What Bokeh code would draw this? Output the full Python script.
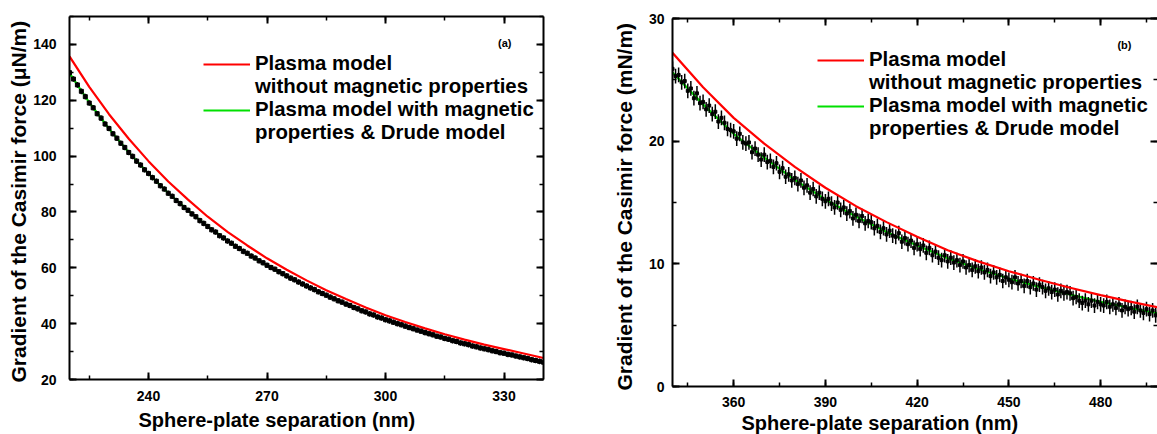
from bokeh.plotting import figure
from bokeh.models import (Range1d, LinearAxis, SingleIntervalTicker, Legend, LegendItem,
                          Label, ColumnDataSource, Title, CustomJSTickFormatter)
from bokeh.layouts import row
from bokeh.embed import file_html
from bokeh.resources import INLINE

FONT = "Liberation Sans"

# ---------------- panel (a) ----------------
sep_a_model = list(range(220, 341, 5))
red_a = [135.7, 124.8, 115.0, 106.2, 98.2, 90.9, 84.4, 78.3, 72.9, 68.0, 63.4, 59.3, 55.5,
         52.0, 48.8, 45.8, 43.0, 40.6, 38.3, 36.2, 34.3, 32.5, 30.9, 29.3, 27.7]
green_a = [129.7, 119.2, 109.8, 101.4, 93.7, 86.8, 80.6, 74.8, 69.7, 65.1, 60.8, 57.0, 53.4,
           50.1, 47.0, 44.1, 41.4, 39.1, 36.8, 34.7, 32.8, 31.0, 29.4, 27.8, 26.2]
sep_a = list(range(220, 341))
data_a = [129.9, 127.6, 125.5, 123.2, 121.3, 119.0, 117.3, 115.2, 113.6, 111.5,
          109.9, 108.0, 106.4, 104.6, 103.1, 101.3, 99.9, 98.2, 96.8, 95.1,
          93.8, 92.3, 91.0, 89.4, 88.2, 86.7, 85.6, 84.1, 83.0, 81.6,
          80.6, 79.3, 78.3, 76.9, 75.9, 74.8, 73.6, 72.8, 71.5, 70.7,
          69.6, 68.8, 67.7, 66.9, 65.9, 65.2, 64.2, 63.5, 62.5, 61.8,
          60.9, 60.1, 59.5, 58.6, 57.9, 57.1, 56.3, 55.7, 54.9, 54.2,
          53.5, 52.8, 52.2, 51.4, 50.8, 50.2, 49.5, 48.9, 48.2, 47.7,
          47.0, 46.5, 45.8, 45.3, 44.6, 44.2, 43.5, 43.1, 42.4, 42.0,
          41.4, 41.0, 40.5, 40.0, 39.6, 39.1, 38.6, 38.2, 37.7, 37.3,
          36.8, 36.4, 36.0, 35.5, 35.2, 34.7, 34.4, 33.9, 33.6, 33.1,
          32.8, 32.5, 32.0, 31.7, 31.3, 31.0, 30.7, 30.3, 30.0, 29.6,
          29.4, 29.0, 28.8, 28.4, 28.1, 27.8, 27.5, 27.1, 26.8, 26.5,
          26.2]
err_a = 1.0

# ---------------- panel (b) ----------------
sep_b_model = list(range(340, 501, 10))
red_b = [27.2, 24.4, 21.9, 19.8, 17.9, 16.2, 14.7, 13.4, 12.2, 11.1, 10.2, 9.4, 8.7,
         8.05, 7.45, 6.9, 6.4]
green_b = [25.6, 23.0, 20.6, 18.65, 16.85, 15.25, 13.85, 12.6, 11.5, 10.45, 9.58, 8.8,
           8.12, 7.5, 6.9, 6.38, 5.9]
sep_b = list(range(340, 501))
data_b = [25.9, 25.3, 25.4, 24.8, 24.9, 24.1, 24.3, 23.5, 23.9, 23.1,
          23.2, 22.6, 22.9, 22.2, 22.4, 21.6, 21.9, 21.5, 21.0, 20.9,
          20.8, 20.2, 20.6, 19.9, 19.8, 19.9, 19.1, 19.4, 18.9, 18.5,
          18.9, 18.3, 18.4, 17.9, 18.2, 17.5, 17.8, 17.1, 17.3, 16.8,
          17.0, 16.5, 16.8, 16.2, 16.4, 15.8, 16.1, 15.5, 15.8, 15.3,
          15.1, 15.3, 14.9, 14.6, 15.0, 14.4, 14.6, 14.1, 14.3, 13.7,
          14.0, 13.5, 13.9, 13.3, 13.5, 13.4, 12.9, 13.1, 12.6, 12.9,
          12.4, 12.7, 12.3, 12.2, 12.5, 11.8, 12.1, 11.6, 11.9, 11.3,
          11.6, 11.2, 11.5, 10.9, 11.3, 10.7, 11.0, 10.5, 10.3, 10.7,
          10.2, 10.5, 10.1, 10.3, 9.9, 10.2, 9.7, 9.9, 9.5, 9.8,
          9.4, 9.7, 9.3, 9.5, 9.0, 9.3, 8.9, 9.1, 8.6, 8.9,
          8.7, 8.5, 8.9, 8.4, 8.6, 8.2, 8.6, 8.1, 8.4, 7.9,
          8.3, 8.1, 7.8, 8.0, 7.7, 7.9, 7.5, 7.8, 7.6, 7.7,
          7.6, 7.2, 7.3, 7.0, 6.8, 7.0, 6.7, 7.0, 6.6, 6.9,
          6.7, 6.6, 6.9, 6.5, 6.7, 6.4, 6.7, 6.2, 6.5, 6.3,
          6.4, 6.1, 6.5, 6.2, 6.0, 6.3, 5.9, 6.2, 5.8, 6.1,
          5.9]
err_b = 0.6

legend_labels = ["Plasma model", "without magnetic properties",
                 "Plasma model with magnetic", "properties & Drude model"]
x_title = "Sphere-plate separation (nm)"
y_title_a = "Gradient of the Casimir force (\u03bcN/m)"
y_title_b = "Gradient of the Casimir force (mN/m)"


def style_axis(ax, labels=True, standoff=8):
    ax.axis_line_width = 2
    ax.axis_line_color = "black"
    ax.major_tick_in = 7
    ax.major_tick_out = 0
    ax.minor_tick_in = 4
    ax.minor_tick_out = 0
    ax.major_tick_line_width = 2
    ax.minor_tick_line_width = 1.5
    ax.major_tick_line_color = "black"
    ax.minor_tick_line_color = "black"
    ax.major_label_text_font = FONT
    ax.major_label_text_font_style = "bold"
    ax.major_label_text_color = "black"
    if labels:
        ax.major_label_text_font_size = "14px"
        ax.major_label_standoff = standoff
    else:
        ax.formatter = CustomJSTickFormatter(code="return ''")
        ax.major_label_text_font_size = "1px"
        ax.major_label_standoff = 0


def make_fig(width, borders, xr, yr, xint, yint, xstand, ystand, right_line=True):
    left, right, top, bottom = borders
    p = figure(width=width, height=434, x_range=Range1d(*xr), y_range=Range1d(*yr),
               output_backend="svg", toolbar_location=None,
               min_border_left=left, min_border_right=right,
               min_border_top=top, min_border_bottom=bottom)
    if "frame_align" in p.properties():
        p.frame_align = False
    p.outline_line_color = None
    p.xgrid.visible = False
    p.ygrid.visible = False
    p.background_fill_color = "white"
    p.border_fill_color = "white"
    p.xaxis.ticker = SingleIntervalTicker(interval=xint, num_minor_ticks=2)
    p.yaxis.ticker = SingleIntervalTicker(interval=yint, num_minor_ticks=2)
    style_axis(p.xaxis[0], True, xstand)
    style_axis(p.yaxis[0], True, ystand)
    p.xaxis[0].major_label_text_line_height = 0.9
    top_ax = LinearAxis(ticker=SingleIntervalTicker(interval=xint, num_minor_ticks=2))
    style_axis(top_ax, False)
    p.add_layout(top_ax, "above")
    right_ax = LinearAxis(ticker=SingleIntervalTicker(interval=yint, num_minor_ticks=2))
    style_axis(right_ax, False)
    if not right_line:
        right_ax.axis_line_color = None
    p.add_layout(right_ax, "right")
    return p


def add_titles(p, xt, yt, x_off, x_stand, y_off, y_stand):
    tx = Title(text=xt, align="left", offset=x_off, standoff=x_stand,
               vertical_align="bottom",
               text_font=FONT, text_font_style="bold", text_font_size="20px",
               text_line_height=0.9, text_color="black")
    p.add_layout(tx, "below")
    ty = Title(text=yt, align="left", offset=y_off, standoff=y_stand,
               vertical_align="bottom",
               text_font=FONT, text_font_style="bold", text_font_size="21px",
               text_color="black")
    p.add_layout(ty, "left")


def add_tag(p, text, x, y):
    p.add_layout(Label(x=x, y=y, text=text, text_font=FONT, text_font_style="bold",
                       text_font_size="11px", text_color="black",
                       text_align="center", text_baseline="middle"))


def add_legend(p, r_red, r_green, loc):
    blank = p.line(x=[], y=[], line_alpha=0)
    items = [LegendItem(label=legend_labels[0], renderers=[r_red]),
             LegendItem(label=legend_labels[1], renderers=[blank]),
             LegendItem(label=legend_labels[2], renderers=[r_green]),
             LegendItem(label=legend_labels[3], renderers=[blank])]
    lg = Legend(items=items, location=loc, border_line_color=None,
                background_fill_alpha=0, padding=0, margin=0, spacing=0,
                label_standoff=5, glyph_width=47, glyph_height=22, label_height=22,
                label_text_font=FONT, label_text_font_style="bold",
                label_text_font_size="20.4px", label_text_color="black")
    p.add_layout(lg)


# ---- figure (a)
pa = make_fig(600, (69, 57, 16, 55), (220, 340), (20, 150), 30, 20, 11, 13)
src_a = ColumnDataSource(dict(x=sep_a, y=data_a,
                              lo=[v - err_a for v in data_a], hi=[v + err_a for v in data_a]))
r_red_a = pa.line(sep_a_model, red_a, line_color="#ff0000", line_width=2.2)
r_green_a = pa.line(sep_a_model, green_a, line_color="#00e000", line_width=2.2)
pa.segment(x0="x", y0="lo", x1="x", y1="hi", source=src_a, line_color="black", line_width=1.2)
pa.scatter(x="x", y="y", source=src_a, marker="square", size=4,
           fill_color="black", line_color="black")
add_legend(pa, r_red_a, r_green_a, (134, 235))
add_tag(pa, "(a)", 330.2, 140.5)
add_titles(pa, x_title, y_title_a, 69, 6, -3, 2)

# ---- figure (b)
pb = make_fig(557, (72, 0, 18, 48), (340, 498.6), (0, 30), 30, 10, 10, 8, right_line=False)
src_b = ColumnDataSource(dict(x=sep_b, y=data_b,
                              lo=[v - err_b for v in data_b], hi=[v + err_b for v in data_b]))
r_green_b = pb.line(sep_b_model, green_b, line_color="#00e000", line_width=2.2)
pb.segment(x0="x", y0="lo", x1="x", y1="hi", source=src_b, line_color="black", line_width=1.5)
pb.scatter(x="x", y="y", source=src_b, marker="square", size=3,
           fill_color="black", line_color="black")
r_red_b = pb.line(sep_b_model, red_b, line_color="#ff0000", line_width=2.2)
add_legend(pb, r_red_b, r_green_b, (145, 246))
add_tag(pb, "(b)", 487.8, 27.8)
add_titles(pb, x_title, y_title_b, 69, 0, -4, 20)

layout = row(pa, pb, spacing=0)
open("out.html", "w").write(file_html(layout, INLINE))
